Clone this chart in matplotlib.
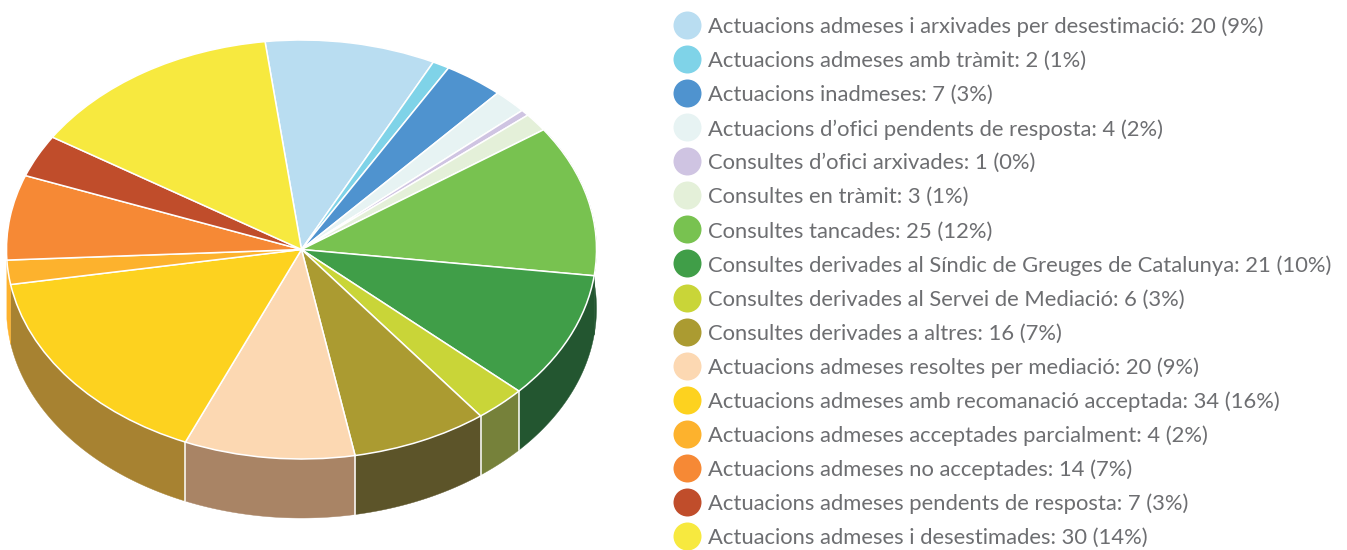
import numpy as np
import matplotlib
matplotlib.use("Agg")
import matplotlib.pyplot as plt

# Datos del gráfico
categorias = [
    "Actuacions admeses i arxivades per desestimació",
    "Actuacions admeses amb tràmit",
    "Actuacions inadmeses",
    "Actuacions d’ofici pendents de resposta",
    "Consultes d’ofici arxivades",
    "Consultes en tràmit",
    "Consultes tancades",
    "Consultes derivades al Síndic de Greuges de Catalunya",
    "Consultes derivades al Servei de Mediació",
    "Consultes derivades a altres",
    "Actuacions admeses resoltes per mediació",
    "Actuacions admeses amb recomanació acceptada",
    "Actuacions admeses acceptades parcialment",
    "Actuacions admeses no acceptades",
    "Actuacions admeses pendents de resposta",
    "Actuacions admeses i desestimades",
]
valores = [20, 2, 7, 4, 1, 3, 25, 21, 6, 16, 20, 34, 4, 14, 7, 30]
porcentajes = [9, 1, 3, 2, 0, 1, 12, 10, 3, 7, 9, 16, 2, 7, 3, 14]

colores = ["#B9DDF1", "#7FD3E8", "#4F93CF", "#E7F3F3", "#CFC4E2", "#E4F0D9",
           "#78C250", "#409E48", "#C9D538", "#AB9B31", "#FCD8B2", "#FDD21F",
           "#FDB22D", "#F68935", "#C04D2B", "#F7E93F"]
# Color de la pared lateral de cada porción (none = sin pared visible)
laterales = ["none", "none", "none", "none", "none", "none",
             "#235630", "#235630", "#76813A", "#5C5429", "#A98465", "#A78231",
             "#FDB22D", "none", "none", "none"]

W, H = 1347, 550
inicio = 97.1
prof = 59 / 209.5

fig = plt.figure(figsize=(W / 100, H / 100), dpi=100)
plt.rcParams['font.family'] = ['Lato', 'DejaVu Sans']

# Ejes de la tarta: la elipse superior ocupa de -1 a 1
izq, der, arr, aba = 6.5, 596.5, 40, 459 + 59
ax = fig.add_axes([izq / W, 1 - aba / H, (der - izq) / W, (aba - arr) / H])

# Paredes laterales
limites = inicio - np.cumsum([0] + valores) / sum(valores) * 360
for i in range(len(valores)):
    t = np.radians(np.linspace(limites[i], limites[i + 1], 120))
    x, y = np.cos(t), np.sin(t)
    ax.fill(np.r_[x, x[::-1]], np.r_[y, y[::-1] - prof],
            facecolor=laterales[i], edgecolor=laterales[i], lw=0.3, zorder=1)

# Separaciones blancas entre paredes
for a in limites[8:12]:
    r = np.radians(a)
    ax.plot([np.cos(r)] * 2, [np.sin(r), np.sin(r) - prof], color="white", lw=1.1, zorder=2)

# Tapa superior
wedges, _ = ax.pie(valores, colors=colores, startangle=inicio, counterclock=False,
                   wedgeprops=dict(edgecolor="white", linewidth=1.1))
for w in wedges:
    w.set_zorder(3)
ax.set_aspect("auto")
ax.set_xlim(-1, 1)
ax.set_ylim(-1 - prof, 1)
ax.axis("off")
for art in ax.patches + ax.lines:
    art.set_clip_on(False)

# Leyenda
ax2 = fig.add_axes([0, 0, 1, 1])
ax2.set_xlim(0, W)
ax2.set_ylim(H, 0)
ax2.axis("off")
ax2.patch.set_alpha(0)
for i, cat in enumerate(categorias):
    y = 25 + i * 34.07
    ax2.scatter(687, y, s=(28 * 0.72) ** 2, color=colores[i], linewidths=0)
    ax2.text(708, y + 2, f"{cat}: {valores[i]} ({porcentajes[i]}%)", fontsize=15.8,
             color="#6D6E71", va="center", ha="left")

fig.savefig("out.png", dpi=100)
